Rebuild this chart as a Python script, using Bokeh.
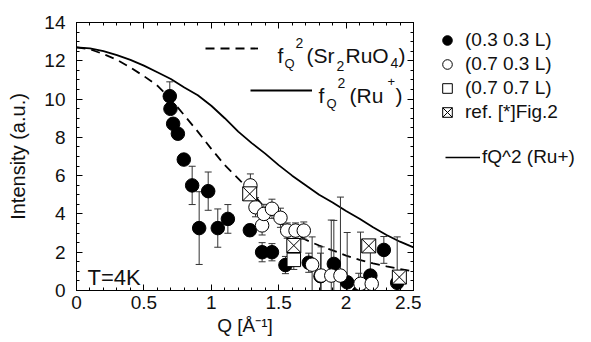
import numpy as np
from bokeh.plotting import figure
from bokeh.layouts import row
from bokeh.models import (Range1d, LinearAxis, SingleIntervalTicker, Label, Legend, LegendItem,
                          CustomJSTickFormatter)
from bokeh.embed import file_html
from bokeh.resources import INLINE

# ---------------- data ----------------
# (0.3 0.3 L) filled circles
q_a = [0.692, 0.697, 0.717, 0.752, 0.796, 0.858, 0.910, 0.977, 1.048, 1.123, 1.286, 1.377,
       1.45, 1.55, 1.723, 1.81, 1.909, 2.008, 2.094, 2.18, 2.28, 2.379]
i_a = [10.15, 9.49, 8.71, 8.19, 6.84, 5.49, 3.26, 5.19, 3.26, 3.74, 3.15, 2.0,
       2.0, 1.33, 1.45, 0.75, 1.39, 0.43, -0.1, 0.78, 2.12, 0.4]
e_a = [0.75, 0.0, 0.0, 0.0, 0.0, 1.0, 1.9, 1.0, 1.0, 0.75, 0.3, 0.5,
       0.45, 0.45, 0.5, 1.2, 2.27, 2.6, 1.0, 1.5, 0.7, 2.4]

# (0.7 0.3 L) open circles
q_b = [1.29, 1.328, 1.377, 1.39, 1.45, 1.513, 1.563, 1.625, 1.686, 1.748, 1.815, 1.89,
       1.958, 2.107, 2.19]
i_b = [5.49, 4.35, 3.40, 4.0, 4.27, 3.8, 3.13, 3.13, 3.13, 1.35, 0.78, 0.78,
       0.78, 0.35, 0.35]
e_b = [0.6, 0.5, 0.5, 0.5, 0.5, 0.5, 0.4, 0.4, 0.45, 1.45, 1.5, 2.9,
       4.1, 2.7, 0.65]

# (0.7 0.7 L) open squares
q_c = [1.612]
i_c = [1.6]
e_c = [0.5]

# ref. [*] Fig.2 crossed squares
q_d = [1.285, 1.612, 2.168, 2.395]
i_d = [5.05, 2.35, 2.33, 0.70]

# form factor curves
q_curve = [0.0, 0.1, 0.2, 0.3, 0.4, 0.5, 0.6, 0.7, 0.8, 0.9, 1.0, 1.1, 1.2,
           1.3, 1.4, 1.5, 1.6, 1.7, 1.8, 1.9, 2.0, 2.1, 2.2, 2.3, 2.4, 2.5]
f_sr2ruo4 = [12.7, 12.6, 12.35, 12.05, 11.65, 11.2, 10.7, 10.0, 9.15, 8.3, 7.4, 6.55, 5.85,
             5.1, 4.3, 3.6, 3.05, 2.65, 2.35, 2.1, 1.82, 1.6, 1.42, 1.26, 1.12, 1.0]
f_ru = [12.7, 12.65, 12.5, 12.3, 12.05, 11.75, 11.4, 11.05, 10.6, 10.2, 9.65, 9.0, 8.3,
        7.7, 7.15, 6.55, 6.0, 5.5, 5.0, 4.6, 4.15, 3.75, 3.3, 2.9, 2.55, 2.25]

x_ticks = [0, 0.5, 1, 1.5, 2, 2.5]
x_tick_labels = ["0", "0.5", "1", "1.5", "2", "2.5"]

legend_labels = ["(0.3 0.3 L)", "(0.7 0.3 L)", "(0.7 0.7 L)", "ref. [*]Fig.2"]
curve_legend_label = "fQ^2 (Ru+)"

FONT = "Liberation Sans"
TXT = "#111111"

# ---------------- main figure ----------------
W_MAIN = 421
p = figure(width=W_MAIN, height=342, output_backend="svg", toolbar_location=None,
           x_range=Range1d(0, 2.5), y_range=Range1d(0, 14),
           min_border_left=76, min_border_right=8, min_border_top=22, min_border_bottom=52,
           x_axis_type=None, y_axis_type=None)
p.xgrid.visible = False
p.ygrid.visible = False
p.outline_line_color = "black"
p.outline_line_width = 1
p.background_fill_color = "white"
p.border_fill_color = "white"


def style_axis(ax, show_labels):
    ax.major_tick_in = 6
    ax.major_tick_out = 0
    ax.minor_tick_in = 3
    ax.minor_tick_out = 0
    ax.axis_line_color = "black"
    ax.major_tick_line_color = "black"
    ax.minor_tick_line_color = "black"
    ax.major_label_text_font = FONT
    ax.major_label_text_font_size = "19px"
    if show_labels:
        ax.major_label_text_color = TXT
    else:
        ax.formatter = CustomJSTickFormatter(code="return ''")
        ax.major_label_text_color = None
        ax.major_label_standoff = 0


xb = LinearAxis(ticker=SingleIntervalTicker(interval=0.5, num_minor_ticks=5),
                axis_label="Q [Å⁻¹]")
style_axis(xb, True)
xb.major_label_overrides = {t: lab for t, lab in zip(x_ticks, x_tick_labels)}
xb.major_label_standoff = 5
xb.axis_label_text_font = FONT
xb.axis_label_text_font_style = "normal"
xb.axis_label_text_font_size = "19px"
xb.axis_label_text_color = TXT
xb.axis_label_standoff = 3
p.add_layout(xb, "below")

xa = LinearAxis(ticker=SingleIntervalTicker(interval=0.5, num_minor_ticks=5))
style_axis(xa, False)
p.add_layout(xa, "above")

yl = LinearAxis(ticker=SingleIntervalTicker(interval=2, num_minor_ticks=4),
                axis_label="Intensity (a.u.)")
style_axis(yl, True)
yl.major_label_standoff = 11
yl.axis_label_text_font = FONT
yl.axis_label_text_font_style = "normal"
yl.axis_label_text_font_size = "20px"
yl.axis_label_text_color = TXT
yl.axis_label_standoff = 12
p.add_layout(yl, "left")

yr = LinearAxis(ticker=SingleIntervalTicker(interval=2, num_minor_ticks=4))
style_axis(yr, False)
p.add_layout(yr, "right")

# ---------------- curves ----------------
r_dash = p.line(q_curve, f_sr2ruo4, line_color="black", line_width=1.8, line_dash="9 6")
r_solid = p.line(q_curve, f_ru, line_color="black", line_width=1.8)

# ---------------- error bars ----------------
def errbars(q, i, e):
    q = np.asarray(q, float); i = np.asarray(i, float); e = np.asarray(e, float)
    m = e > 0
    q, i, e = q[m], i[m], e[m]
    p.segment(x0=q, y0=i - e, x1=q, y1=i + e, line_color="#333333", line_width=1)
    p.scatter(np.concatenate([q, q]), np.concatenate([i - e, i + e]), marker="dash",
              size=7, line_color="#333333", line_width=1)

errbars(q_a, i_a, e_a)
errbars(q_b, i_b, e_b)
errbars(q_c, i_c, e_c)

# ---------------- points ----------------
MARK_A = dict(marker="circle", fill_color="black", line_color="black")
MARK_B = dict(marker="circle", fill_color="white", line_color="black", line_width=1)
MARK_C = dict(marker="square", fill_color="white", line_color="black", line_width=1)
MARK_D = dict(marker="square_x", fill_color="white", line_color="black", line_width=1)

p.scatter(q_a, i_a, size=13.5, **MARK_A)
p.scatter(q_b, i_b, size=13.5, **MARK_B)
p.scatter(q_c, i_c, size=13.5, **MARK_C)
p.scatter(q_d, i_d, size=14, **MARK_D)


def mk_legend(fig, items, loc, gw, gh=24, standoff=6, size="19px"):
    lg = Legend(items=items, location=loc, orientation="vertical",
                glyph_width=gw, glyph_height=gh, label_height=gh, spacing=0,
                padding=0, margin=0, label_standoff=standoff,
                label_text_font=FONT, label_text_font_size=size, label_text_color=TXT,
                border_line_color=None, background_fill_alpha=0)
    fig.add_layout(lg, "center")
    return lg

# sample lines of the in-frame key
mk_legend(p, [LegendItem(label=" ", renderers=[r_dash])], (129, 230), 53, standoff=0)
mk_legend(p, [LegendItem(label=" ", renderers=[r_solid])], (174, 188), 62, standoff=0)

# ---------------- texts inside the frame ----------------
X0, X1 = 76.0, 413.0
Y0, Y1 = 290.0, 22.0

def dx(px):
    return (px - X0) / (X1 - X0) * 2.5

def dy(py):
    return (Y0 - py) / (Y0 - Y1) * 14.0

def lab(text, px, py, size, baseline="alphabetic"):
    p.add_layout(Label(x=dx(px), y=dy(py), text=text, text_font=FONT, text_font_size=size,
                       text_color=TXT, text_baseline=baseline, text_align="left"))

# f_Q^2 (Sr2RuO4)
lab("f", 277, 55, "21px")
lab("Q", 284, 63, "13px", "middle")
lab("2", 295, 42, "14px", "middle")
lab("(Sr", 306, 55, "21px")
lab("2", 336, 65, "14px", "middle")
lab("RuO", 345, 55, "21px")
lab("4", 390, 62, "14px", "middle")
lab(")", 398, 55, "21px")

# f_Q^2 (Ru+)
lab("f", 318, 95, "21px")
lab("Q", 326, 103, "13px", "middle")
lab("2", 337, 82, "14px", "middle")
lab("(Ru", 349, 95, "21px")
lab("+", 387, 81, "13px", "middle")
lab(")", 395, 95, "21px")

lab("T=4K", 87, 277, "22px")

# ---------------- key figure on the right ----------------
# (its frame is aligned with the main frame: top 22, bottom 290)
W_KEY = 591 - W_MAIN
k = figure(width=W_KEY, height=342, output_backend="svg", toolbar_location=None,
           x_range=Range1d(10, 11), y_range=Range1d(10, 11),
           min_border_left=0, min_border_right=0, min_border_top=0, min_border_bottom=0,
           x_axis_type=None, y_axis_type=None)
k.xgrid.visible = False
k.ygrid.visible = False
k.outline_line_color = None
k.background_fill_color = "white"
k.border_fill_color = "white"

# the key's renderers reuse the series but lie outside this panel's (empty) view
ka = k.scatter(q_a, i_a, size=10, **MARK_A)
kb = k.scatter(q_b, i_b, size=10, **MARK_B)
kc = k.scatter(q_c, i_c, size=10, **MARK_C)
kd = k.scatter(q_d, i_d, size=10, **MARK_D)
kl = k.line(q_curve, f_ru, line_color="black", line_width=1.6)

mk_legend(k, [LegendItem(label=legend_labels[0], renderers=[ka]),
              LegendItem(label=legend_labels[1], renderers=[kb]),
              LegendItem(label=legend_labels[2], renderers=[kc]),
              LegendItem(label=legend_labels[3], renderers=[kd])],
          (447 - 12 - W_MAIN, 290 - 124), 24)
mk_legend(k, [LegendItem(label=curve_legend_label, renderers=[kl])],
          (445 - W_MAIN, 290 - 169), 35, standoff=2)

layout = row(p, k)
open("out.html", "w").write(file_html(layout, INLINE))
